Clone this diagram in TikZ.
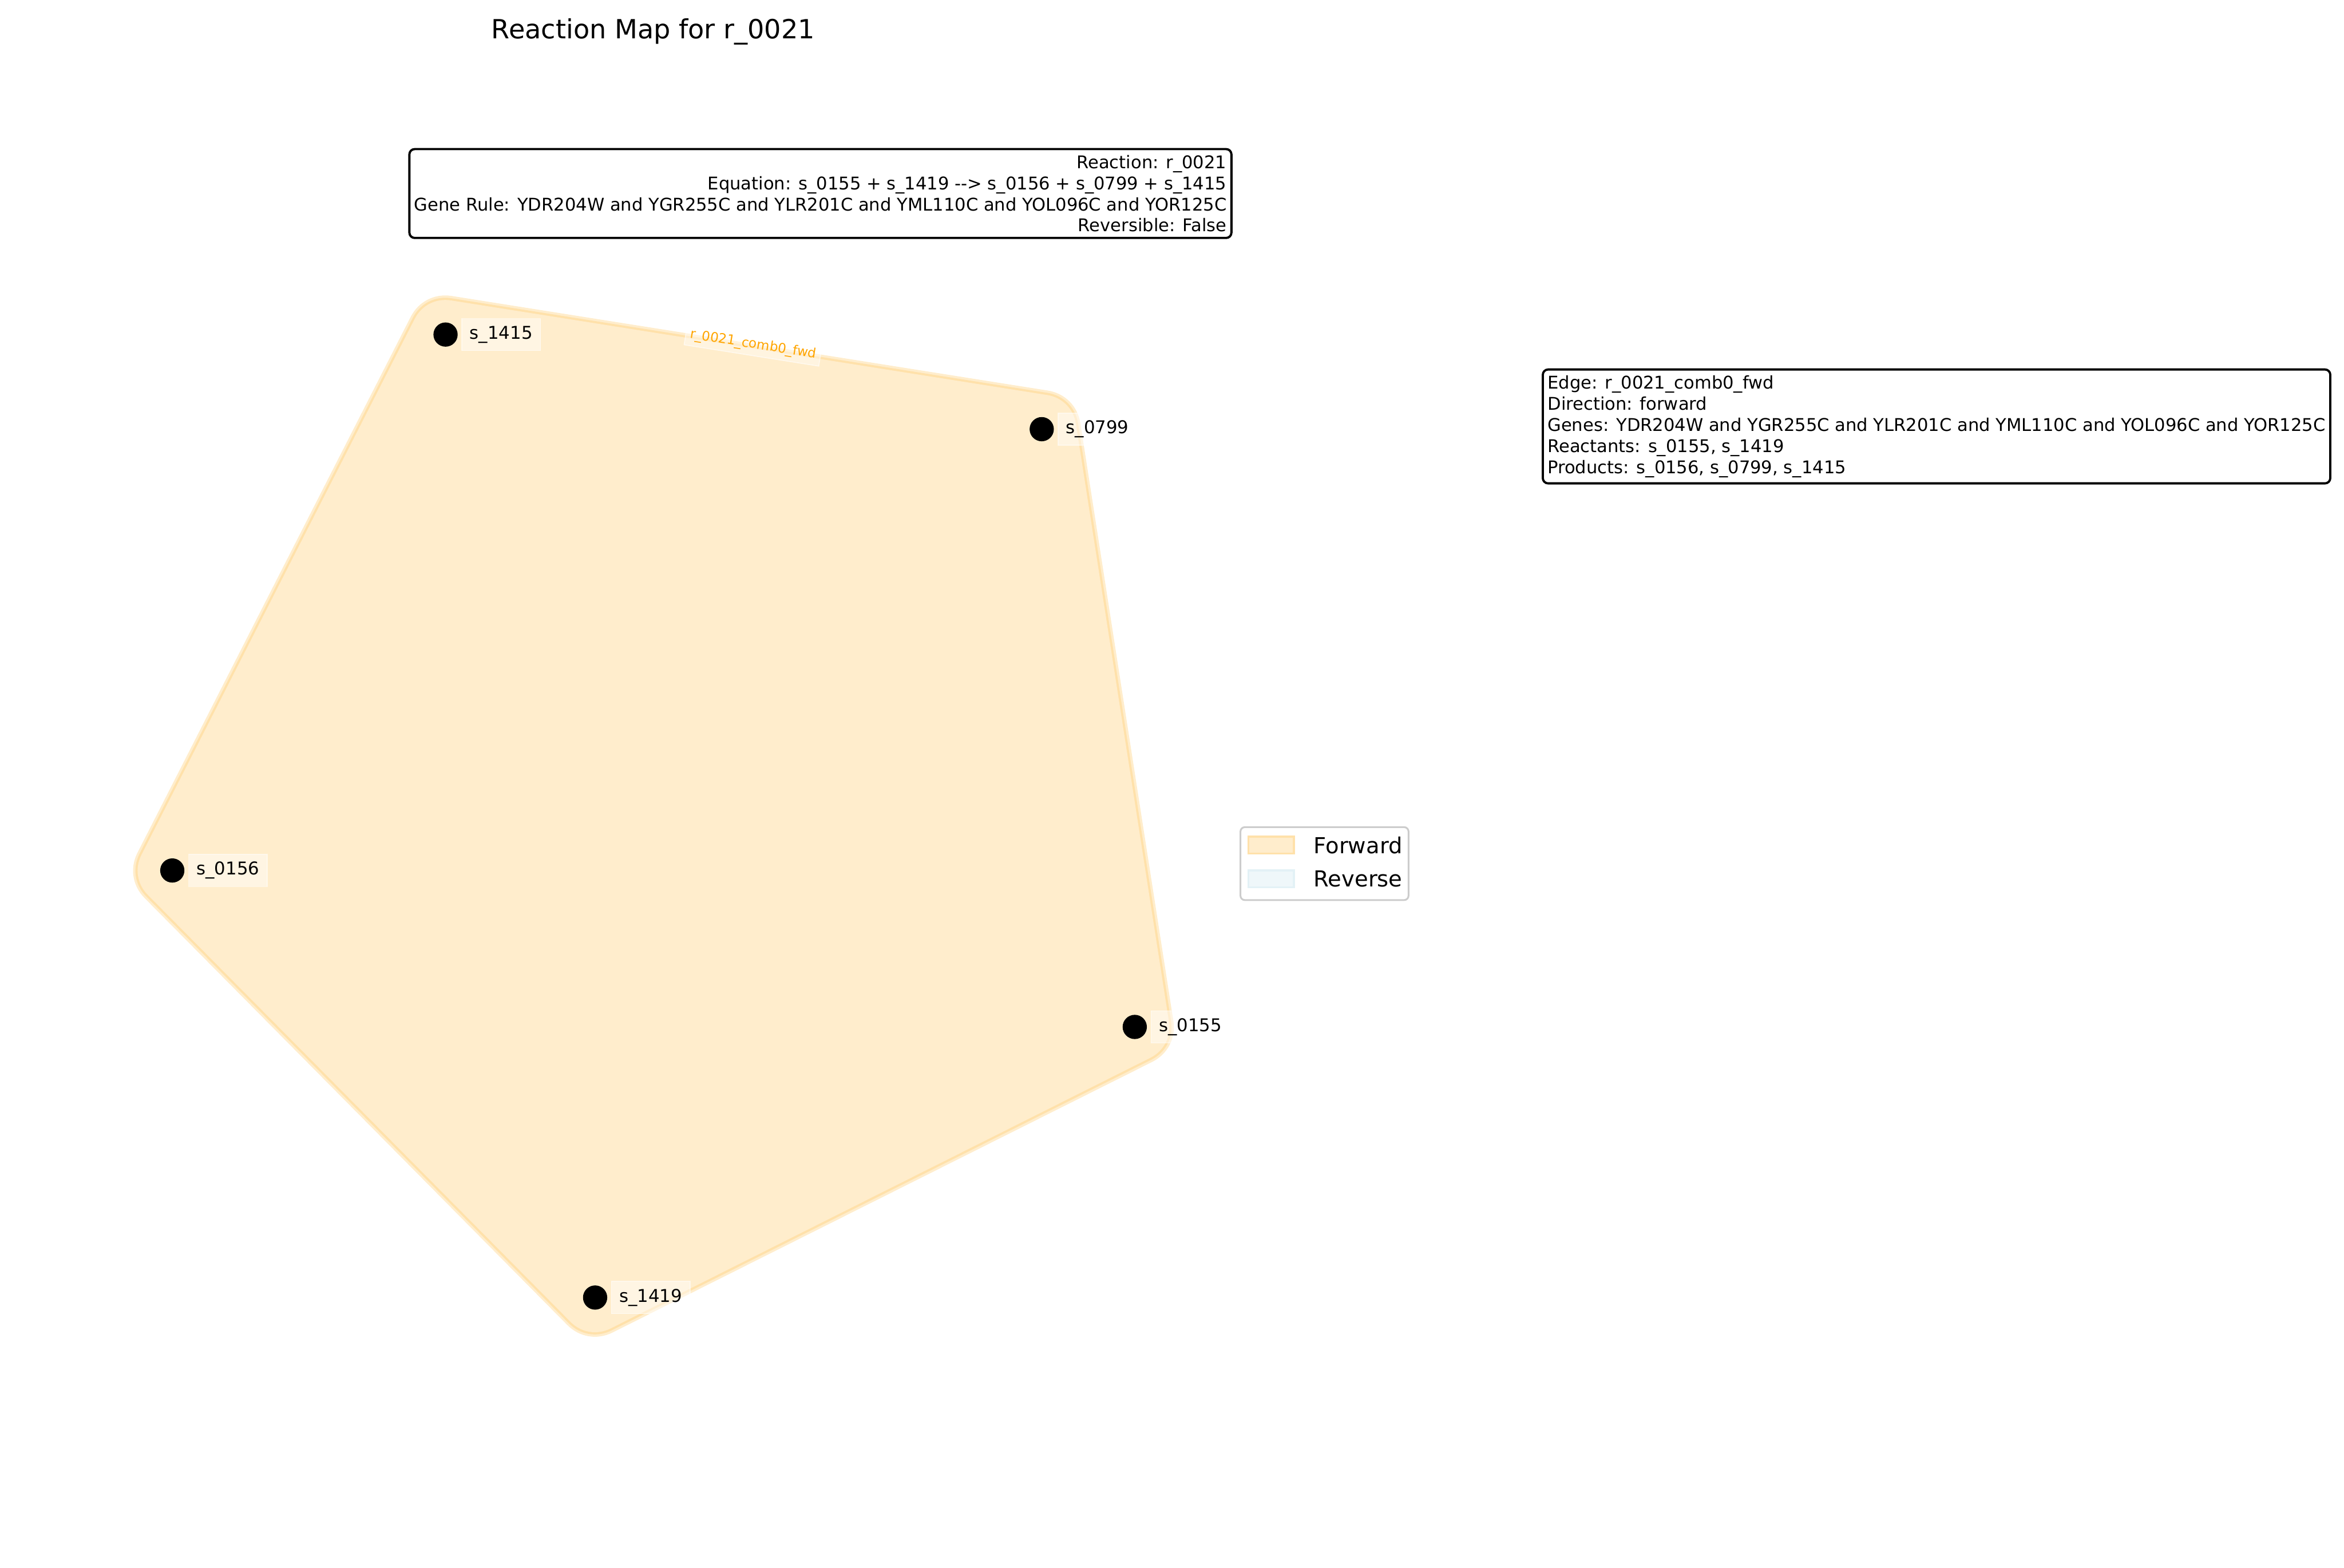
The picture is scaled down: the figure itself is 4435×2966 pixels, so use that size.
\documentclass[tikz,border=0pt]{standalone}
\usepackage{fontspec}
\setmainfont{DejaVu Sans}
\usetikzlibrary{backgrounds,positioning}
\definecolor{hullfill}{HTML}{FFEDCC}
\definecolor{hullline}{HTML}{FFE1AA}
\definecolor{revfill}{HTML}{EFF7FA}
\definecolor{revline}{HTML}{E3F1F6}
\definecolor{fwdtext}{HTML}{FFA500}
\definecolor{legframe}{HTML}{CCCCCC}
\begin{document}
\begin{tikzpicture}[x=0.24pt,y=-0.24pt,
  met/.style={circle,fill=black,minimum size=11pt,inner sep=0pt},
  metlab/.style={fill=white,fill opacity=0.45,draw=white,draw opacity=0.5,text opacity=1,
    inner xsep=3.6pt,inner ysep=3.4pt,font=\fontsize{8}{9.6}\selectfont},
  infobox/.style={draw=black,line width=1pt,rounded corners=2.4pt,fill=white,
    inner xsep=2.2pt,inner ysep=2.7pt,font=\fontsize{7.95}{9.6}\selectfont},
  patch/.style={minimum width=20.6pt,minimum height=7.6pt,inner sep=0pt,line width=1pt}]
\useasboundingbox (0,0) rectangle (4435,2966);
% title
\node[anchor=base,font=\fontsize{12}{14.4}\selectfont] (title) at (1236,73) {Reaction Map for r\_0021};
% metabolites
\node[met] (s1415) at (843,633) {};
\node[met] (s0799) at (1971,812) {};
\node[met] (s0156) at (326,1647) {};
\node[met] (s0155) at (2147,1943) {};
\node[met] (s1419) at (1126,2455) {};
\node[metlab,right=7.2pt of s1415.center] (l1415) {s\_1415};
\node[metlab,right=7.2pt of s0799.center] (l0799) {s\_0799};
\node[metlab,right=7.2pt of s0156.center] (l0156) {s\_0156};
\node[metlab,right=7.2pt of s0155.center] (l0155) {s\_0155};
\node[metlab,right=7.2pt of s1419.center] (l1419) {s\_1419};
% hyperedge hull
\begin{pgfonlayer}{background}
\foreach \w/\c in {35.5pt/hullfill,33.4pt/hullline,31.4pt/hullfill}
  \draw[line width=\w,draw=\c,fill=\c,line join=round]
    (s1415.center)--(s0799.center)--(s0155.center)--(s1419.center)--(s0156.center)--cycle;
\end{pgfonlayer}
\node[rotate=-9,text=fwdtext,fill=white,fill opacity=0.4,draw=white,draw opacity=0.6,text opacity=1,
  inner sep=2pt,font=\fontsize{6}{7.2}\selectfont] (elbl) at (1425,652) {r\_0021\_comb0\_fwd};
% info boxes
\node[infobox,anchor=north east,align=right] (rinfo) at (2332,280) {Reaction: r\_0021\\
  Equation: s\_0155 + s\_1419 -\kern0pt-> s\_0156 + s\_0799 + s\_1415\\
  Gene Rule: YDR204W and YGR255C and YLR201C and YML110C and YOL096C and YOR125C\\
  Reversible: False};
\node[infobox,anchor=north west,align=left] (einfo) at (2917,697) {Edge: r\_0021\_comb0\_fwd\\
  Direction: forward\\
  Genes: YDR204W and YGR255C and YLR201C and YML110C and YOL096C and YOR125C\\
  Reactants: s\_0155, s\_1419\\
  Products: s\_0156, s\_0799, s\_1415};
% legend
\draw[legframe,line width=0.8pt,rounded corners=2pt,fill=white] (2347,1565) rectangle (2665,1703);
\node[patch,fill=hullfill,draw=hullline] (pfwd) at (2405,1599) {};
\node[patch,fill=revfill,draw=revline] (prev) at (2405,1663) {};
\node[right=8.4pt of pfwd,inner sep=0pt,font=\fontsize{10}{12}\selectfont] (tfwd) {Forward};
\node[right=8.4pt of prev,inner sep=0pt,font=\fontsize{10}{12}\selectfont] (trev) {Reverse};
\end{tikzpicture}
\end{document}
